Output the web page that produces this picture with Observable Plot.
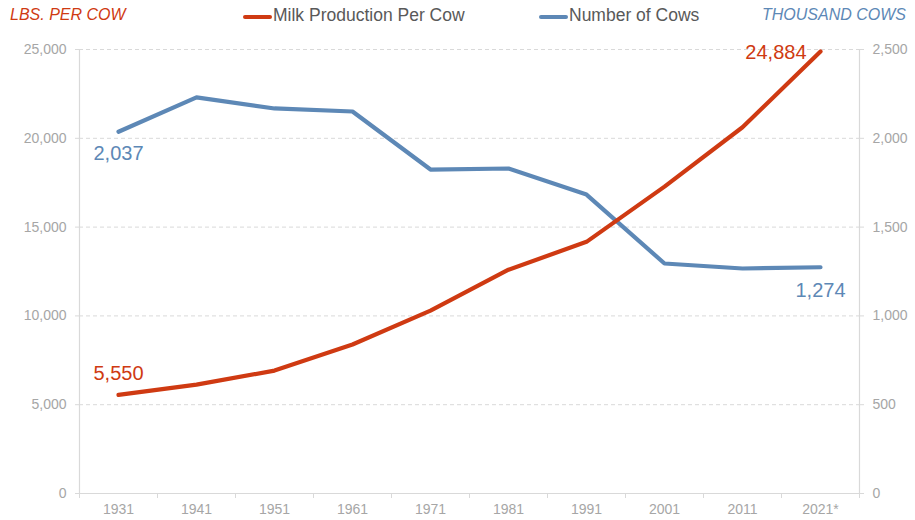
<!DOCTYPE html>
<html><head><meta charset="utf-8">
<script src="https://cdn.jsdelivr.net/npm/d3@7"></script>
<script src="https://cdn.jsdelivr.net/npm/@observablehq/plot@0.6"></script>
<style>
body{margin:0;background:#fff;font-family:"Liberation Sans",Arial,sans-serif;}
#header{position:relative;width:915px;height:32px;}
#header span{position:absolute;white-space:nowrap;}
.unit{font-size:16px;font-style:italic;top:6px;}
.leg{font-size:17.5px;color:#595959;top:5px;}
.sw{position:absolute;height:4px;width:29px;top:15px;border-radius:2px;}
#chart svg{display:block;overflow:visible;}
</style></head><body>
<div id="header">
  <span class="unit" style="left:10px;color:#cf3a12;">LBS. PER COW</span>
  <div class="sw" style="left:243px;background:#cf3a12;"></div>
  <span class="leg" style="left:273px;">Milk Production Per Cow</span>
  <div class="sw" style="left:539px;background:#5d88b6;"></div>
  <span class="leg" style="left:569px;">Number of Cows</span>
  <span class="unit" style="right:9px;color:#5d88b6;">THOUSAND COWS</span>
</div>
<div id="chart"></div>
<script>
const years = [1931, 1941, 1951, 1961, 1971, 1981, 1991, 2001, 2011, 2021];
const yearLabels = ["1931", "1941", "1951", "1961", "1971", "1981", "1991", "2001", "2011", "2021*"];
const milkPerCow = [5550, 6130, 6920, 8390, 10300, 12600, 14170, 17280, 20620, 24884];
const cowsThousand = [2037, 2230, 2168, 2151, 1824, 1830, 1683, 1295, 1267, 1274];
const leftTicks = [0, 5000, 10000, 15000, 20000, 25000];

const RED = "#cf3a12", BLUE = "#5d88b6", GRID = "#d9d9d9", TXT = "#a6a6a6";
const ratio = 10; // left axis units per right axis unit
const fmt = d3.format(",");

const rows = years.map((yr, i) => ({year: yr, label: yearLabels[i], milk: milkPerCow[i], cows: cowsThousand[i]}));
const first = rows[0], last = rows[rows.length - 1];
const bounds = years.map(y => y - 5).concat([years[years.length - 1] + 5]);

const chart = Plot.plot({
  width: 915,
  height: 488,
  marginTop: 17,
  marginBottom: 27,
  marginLeft: 79,
  marginRight: 56,
  style: {fontFamily: "'Liberation Sans', Arial, sans-serif", background: "#fff", overflow: "visible"},
  x: {domain: [bounds[0], bounds[bounds.length - 1]]},
  y: {domain: [0, 25000]},
  marks: [
    Plot.ruleY(leftTicks.filter(d => d > 0), {stroke: GRID, strokeDasharray: "4,3", strokeWidth: 1}),
    Plot.ruleY([0], {stroke: GRID, strokeWidth: 1.2}),
    Plot.ruleX([bounds[0], bounds[bounds.length - 1]], {stroke: GRID, strokeWidth: 1.2}),
    Plot.axisY({anchor: "left", ticks: leftTicks, tickFormat: fmt, tickSize: 4, tickPadding: 9, stroke: GRID, color: TXT, fontSize: 14, label: null}),
    Plot.axisY({anchor: "right", ticks: leftTicks, tickFormat: d => fmt(d / ratio), tickSize: 4, tickPadding: 9, stroke: GRID, color: TXT, fontSize: 14, label: null}),
    Plot.axisX({ticks: bounds, tickFormat: () => "", tickSize: 5, stroke: GRID, label: null}),
    Plot.axisX({ticks: years, tickFormat: (d) => yearLabels[years.indexOf(d)], tickSize: 0, tickPadding: 11, color: TXT, fontSize: 14, label: null}),
    Plot.line(rows, {x: "year", y: d => d.cows * ratio, stroke: BLUE, strokeWidth: 4.2, strokeLinejoin: "round"}),
    Plot.line(rows, {x: "year", y: "milk", stroke: RED, strokeWidth: 4.2, strokeLinejoin: "round"}),
    Plot.text([first], {x: "year", y: "milk", text: d => fmt(d.milk), dy: -21, fill: RED, fontSize: 20}),
    Plot.text([last], {x: "year", y: "milk", text: d => fmt(d.milk), dx: -14, dy: 1, textAnchor: "end", fill: RED, fontSize: 20}),
    Plot.text([first], {x: "year", y: d => d.cows * ratio, text: d => fmt(d.cows), dy: 22, fill: BLUE, fontSize: 20}),
    Plot.text([last], {x: "year", y: d => d.cows * ratio, text: d => fmt(d.cows), dy: 23, fill: BLUE, fontSize: 20})
  ]
});
document.getElementById("chart").appendChild(chart);
</script>
</body></html>
